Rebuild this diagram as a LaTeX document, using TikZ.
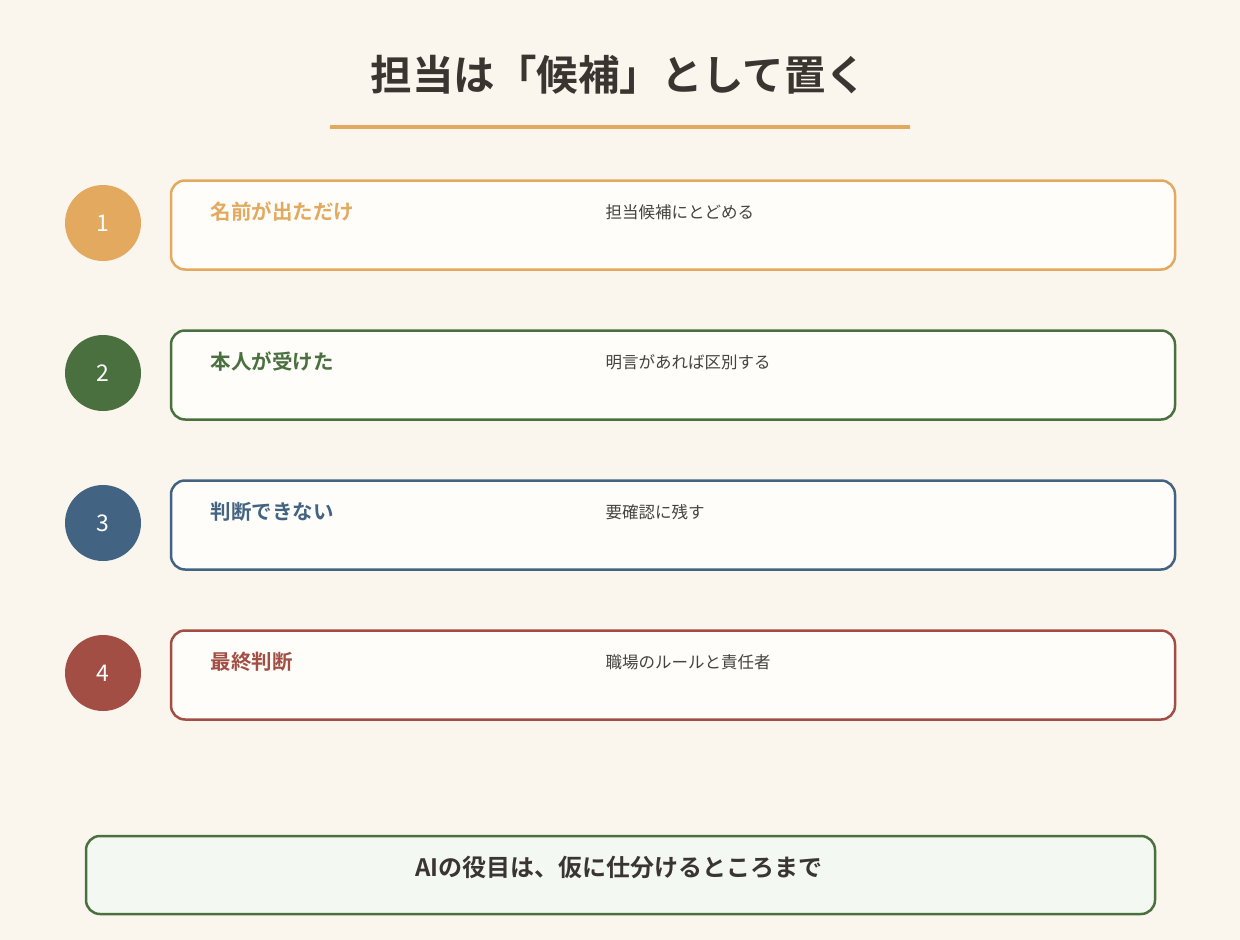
\documentclass[tikz,border=0pt]{standalone}
\usepackage{fontspec}
\setmainfont{Noto Sans CJK JP}
\newfontfamily\jpb{Noto Sans CJK JP Bold}
\definecolor{bgc}{HTML}{FAF6EE}
\definecolor{ink}{HTML}{3A3530}
\definecolor{txt}{HTML}{454240}
\definecolor{cOr}{HTML}{E3A95E}
\definecolor{cGr}{HTML}{4A7040}
\definecolor{cBl}{HTML}{436382}
\definecolor{cRd}{HTML}{A34E45}
\definecolor{boxfill}{HTML}{FEFDF9}
\definecolor{notefill}{HTML}{F4F8F2}
\begin{document}
\begin{tikzpicture}[x=1pt,y=-1pt,
  numcirc/.style={circle,minimum size=76pt,inner sep=0pt,text=white,font=\fontsize{23}{25}\selectfont},
  rowbox/.style={draw,line width=2.5pt,rounded corners=14pt,fill=boxfill,minimum width=1004pt,minimum height=89pt,inner sep=0pt},
  lbl/.style={anchor=west,font=\jpb\fontsize{20.5}{24}\selectfont},
  desc/.style={anchor=west,text=txt,font=\fontsize{16.5}{20}\selectfont}]
\fill[bgc] (0,0) rectangle (1240,940);
\useasboundingbox (0,0) rectangle (1240,940);
\node[text=ink,font=\jpb\fontsize{41.5}{46}\selectfont] (title) at (619,75) {担当は「候補」として置く};
\coordinate (ulA) at (330,127);
\coordinate (ulB) at (910,127);
\draw[cOr,line width=4pt] (ulA) -- (ulB);
% rows
\foreach \i/\c/\y/\la/\de in {1/cOr/225/名前が出ただけ/担当候補にとどめる,
                               2/cGr/375/本人が受けた/明言があれば区別する,
                               3/cBl/525/判断できない/要確認に残す,
                               4/cRd/675/最終判断/職場のルールと責任者}{
  \node[numcirc,fill=\c] (n\i) at (103,\y-2) {\i};
  \node[rowbox,draw=\c] (b\i) at (673,\y) {};
  \node[lbl,text=\c] (l\i) at (207,\y-13) {\la};
  \node[desc] (d\i) at (602,\y-13) {\de};
}
\node[draw=cGr,line width=2.5pt,rounded corners=14pt,fill=notefill,minimum width=1069pt,minimum height=78pt] (note) at (620.5,875) {};
\node[text=ink,font=\jpb\fontsize{24}{27}\selectfont] (notetxt) at (619,867) {AIの役目は、仮に仕分けるところまで};
\end{tikzpicture}
\end{document}
